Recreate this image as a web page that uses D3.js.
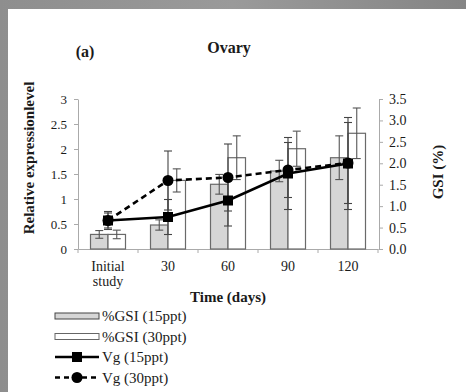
<!DOCTYPE html>
<html><head><meta charset="utf-8">
<script src="https://cdn.jsdelivr.net/npm/d3@7"></script>
<style>
html,body{margin:0;padding:0;background:#8c8c8c;}
svg{display:block;}
text{font-family:"Liberation Serif","Times New Roman",serif;fill:#1a1a1a;}
</style></head>
<body>
<svg id="c" width="466" height="392"></svg>
<script>
const categories = ["Initial study", "30", "60", "90", "120"];
const gsi15 = [0.34, 0.56, 1.51, 1.82, 2.13];
const gsi15Err = [0.09, 0.12, 0.23, 0.25, 0.51];
const gsi30 = [0.34, 1.60, 2.13, 2.34, 2.70];
const gsi30Err = [0.10, 0.27, 0.51, 0.41, 0.59];
const vg15 = [0.57, 0.64, 0.97, 1.51, 1.71];
const vg15Err = [0.15, 0.35, 0.51, 0.72, 0.92];
const vg30 = [0.57, 1.37, 1.43, 1.58, 1.72];
const vg30Err = [0.18, 0.59, 0.67, 0.55, 0.81];
const leftTicks = [0, 0.5, 1, 1.5, 2, 2.5, 3];
const rightTicks = [0, 0.5, 1, 1.5, 2, 2.5, 3, 3.5];
const legendLabels = ["%GSI (15ppt)", "%GSI (30ppt)", "Vg (15ppt)", "Vg (30ppt)"];

const svg = d3.select("#c");
// background texture-ish
const defs = svg.append("defs");
const lg = defs.append("linearGradient").attr("id","bg").attr("x1","0").attr("x2","1");
lg.append("stop").attr("offset","0").attr("stop-color","#8e8e8e");
lg.append("stop").attr("offset","0.5").attr("stop-color","#9a9a9a");
lg.append("stop").attr("offset","1").attr("stop-color","#858585");
svg.append("rect").attr("width",466).attr("height",392).attr("fill","url(#bg)");
svg.append("rect").attr("x",8).attr("y",9).attr("width",458).attr("height",383).attr("fill","#fff");

const x = d3.scaleBand().domain(categories).range([78, 378]);
const yL = d3.scaleLinear().domain([0, 3]).range([249, 99]);
const yR = d3.scaleLinear().domain([0, 3.5]).range([249, 99]);
const cx = c => x(c) + x.bandwidth() / 2;
const bw = 17.5;

// left axis
const la = svg.append("g").attr("transform","translate(78,0)")
  .call(d3.axisLeft(yL).tickValues(leftTicks).tickSize(4).tickSizeOuter(0).tickPadding(7).tickFormat(d3.format("")));
la.selectAll("text").style("font-size","13px").attr("fill","#222");
// right axis
const ra = svg.append("g").attr("transform","translate(379,0)")
  .call(d3.axisRight(yR).tickValues(rightTicks).tickSize(4).tickSizeOuter(0).tickPadding(6).tickFormat(d3.format(".1f")));
ra.selectAll("text").style("font-size","14px").attr("fill","#222");
// bottom axis
const ba = svg.append("g").attr("transform","translate(0,249)")
  .call(d3.axisBottom(x).tickSize(0).tickSizeOuter(0).tickPadding(12));
ba.selectAll("text").style("font-size","14px").attr("fill","#222").text(null)
  .each(function(d){
    const parts = d.split(" ");
    const t = d3.select(this);
    parts.forEach((p,i)=> t.append("tspan").attr("x",0).attr("dy", i===0 ? "0.71em" : "1.05em").text(p));
  });
// boundary ticks
const bounds = categories.map(c => x(c)).concat([x.range()[1]]);
svg.append("g").selectAll("line").data(bounds).join("line")
  .attr("x1",d=>d).attr("x2",d=>d).attr("y1",249).attr("y2",253).attr("stroke","#aaa");
svg.selectAll(".domain").attr("stroke","#aaa");
svg.selectAll(".tick line").attr("stroke","#aaa");

// bars
const g = svg.append("g");
g.selectAll("rect.g15").data(categories).join("rect")
  .attr("x", c => cx(c) - bw).attr("width", bw)
  .attr("y", (c,i) => yR(gsi15[i])).attr("height", (c,i) => yR(0) - yR(gsi15[i]))
  .attr("fill","#d6d6d6").attr("stroke","#6a6a6a").attr("stroke-width",1.2);
g.selectAll("rect.g30").data(categories).join("rect").attr("class","g30")
  .attr("x", c => cx(c)).attr("width", bw)
  .attr("y", (c,i) => yR(gsi30[i])).attr("height", (c,i) => yR(0) - yR(gsi30[i]))
  .attr("fill","#fff").attr("stroke","#6a6a6a").attr("stroke-width",1.2);

function errBars(sel, xs, vals, errs, yS, color, cap){
  const eg = sel.append("g").attr("stroke",color).attr("stroke-width",1.1).attr("fill","none");
  categories.forEach((c,i)=>{
    const xx = xs(c), y1 = yS(vals[i]+errs[i]), y2 = yS(vals[i]-errs[i]);
    eg.append("line").attr("x1",xx).attr("x2",xx).attr("y1",y1).attr("y2",y2);
    eg.append("line").attr("x1",xx-cap).attr("x2",xx+cap).attr("y1",y1).attr("y2",y1);
    eg.append("line").attr("x1",xx-cap).attr("x2",xx+cap).attr("y1",y2).attr("y2",y2);
  });
}
errBars(svg, c => cx(c) - bw/2, gsi15, gsi15Err, yR, "#555", 4);
errBars(svg, c => cx(c) + bw/2, gsi30, gsi30Err, yR, "#555", 4);
errBars(svg, cx, vg30, vg30Err, yL, "#444", 4);
errBars(svg, cx, vg15, vg15Err, yL, "#444", 4);

// lines
const line = arr => d3.line().x((d,i)=>cx(categories[i])).y(d=>yL(d))(arr);
svg.append("path").attr("d", line(vg30)).attr("fill","none").attr("stroke","#000").attr("stroke-width",2.6).attr("stroke-dasharray","6,4");
svg.append("path").attr("d", line(vg15)).attr("fill","none").attr("stroke","#000").attr("stroke-width",2.6);
svg.append("g").selectAll("circle").data(vg30).join("circle")
  .attr("cx",(d,i)=>cx(categories[i])).attr("cy",d=>yL(d)).attr("r",5.5).attr("fill","#000");
svg.append("g").selectAll("rect").data(vg15).join("rect")
  .attr("x",(d,i)=>cx(categories[i])-5).attr("y",d=>yL(d)-5).attr("width",10).attr("height",10).attr("fill","#000");

// titles
svg.append("text").attr("x",229).attr("y",53).attr("text-anchor","middle").style("font-size","16px").style("font-weight","bold").text("Ovary");
svg.append("text").attr("x",85).attr("y",57).attr("text-anchor","middle").style("font-size","16px").style("font-weight","bold").text("(a)");
svg.append("text").attr("x",228).attr("y",302).attr("text-anchor","middle").style("font-size","15px").style("font-weight","bold").text("Time (days)");
svg.append("text").attr("transform","translate(34,158) rotate(-90)").attr("text-anchor","middle").style("font-size","15px").style("font-weight","bold").text("Relative expressionlevel");
svg.append("text").attr("transform","translate(443,172) rotate(-90)").attr("text-anchor","middle").style("font-size","15px").style("font-weight","bold").text("GSI (%)");

// legend
const ly = [316, 336.5, 357, 377.5];
const leg = svg.append("g");
leg.append("rect").attr("x",55).attr("y",ly[0]-3).attr("width",44).attr("height",6).attr("fill","#d6d6d6").attr("stroke","#444");
leg.append("rect").attr("x",55).attr("y",ly[1]-3).attr("width",44).attr("height",6).attr("fill","#fff").attr("stroke","#666");
leg.append("line").attr("x1",55).attr("x2",99).attr("y1",ly[2]).attr("y2",ly[2]).attr("stroke","#000").attr("stroke-width",2.6);
leg.append("rect").attr("x",72).attr("y",ly[2]-5).attr("width",10).attr("height",10).attr("fill","#000");
leg.append("line").attr("x1",55).attr("x2",99).attr("y1",ly[3]).attr("y2",ly[3]).attr("stroke","#000").attr("stroke-width",2.6).attr("stroke-dasharray","5,4");
leg.append("circle").attr("cx",77).attr("cy",ly[3]).attr("r",5.5).attr("fill","#000");
leg.selectAll("text").data(legendLabels).join("text")
  .attr("x",102).attr("y",(d,i)=>ly[i]).attr("dy","0.35em").style("font-size","15px").text(d=>d);
</script>
</body></html>
